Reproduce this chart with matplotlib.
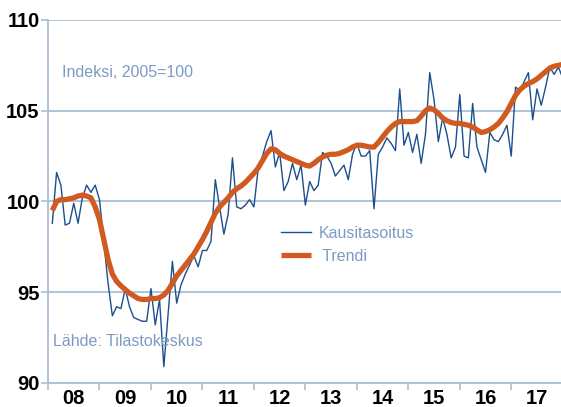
import numpy as np
import matplotlib
matplotlib.use("Agg")
import matplotlib.pyplot as plt

# monthly data, 2008 -> 2017
years = ["08", "09", "10", "11", "12", "13", "14", "15", "16", "17"]

kausitasoitus = [
    98.8, 101.6, 100.9, 98.7, 98.8, 99.9, 98.8, 100.2, 100.9, 100.5, 100.9, 100.1,
    97.8, 95.5, 93.7, 94.2, 94.1, 95.2, 94.2, 93.6, 93.5, 93.4, 93.4, 95.2,
    93.2, 94.6, 90.9, 93.8, 96.7, 94.4, 95.4, 96.0, 96.5, 97.0, 96.4, 97.3,
    97.3, 97.8, 101.2, 99.7, 98.2, 99.3, 102.4, 99.7, 99.6, 99.8, 100.1, 99.7,
    101.8, 102.5, 103.3, 103.9, 101.9, 102.7, 100.6, 101.1, 102.1, 101.2, 102.0, 99.8,
    101.1, 100.6, 100.9, 102.7, 102.5, 102.1, 101.4, 101.7, 102.0, 101.2, 102.6, 103.2,
    102.5, 102.5, 102.8, 99.6, 102.6, 103.0, 103.5, 103.2, 102.8, 106.2, 103.1, 103.8,
    102.7, 103.7, 102.1, 103.7, 107.1, 105.6, 103.3, 104.6, 103.7, 102.4, 103.0, 105.9,
    102.5, 102.4, 105.4, 103.0, 102.3, 101.6, 103.8, 103.4, 103.3, 103.7, 104.2, 102.5,
    106.3, 106.1, 106.6, 107.1, 104.5, 106.2, 105.3, 106.3, 107.4, 107.0, 107.4, 106.8,
]

trendi = [
    99.5, 100.0, 100.1, 100.1, 100.15, 100.2, 100.3, 100.35, 100.3, 100.2, 99.7, 99.0,
    97.9, 96.8, 96.0, 95.6, 95.35, 95.15, 94.95, 94.8, 94.65, 94.6, 94.6, 94.65,
    94.65, 94.7, 94.85, 95.1, 95.5, 95.9, 96.2, 96.5, 96.8, 97.1, 97.5, 97.9,
    98.35, 98.85, 99.35, 99.7, 99.95, 100.2, 100.5, 100.7, 100.85, 101.05, 101.3, 101.55,
    101.85, 102.25, 102.65, 102.9, 102.85, 102.65, 102.5, 102.4, 102.3, 102.2, 102.1, 102.0,
    101.95, 102.1, 102.3, 102.45, 102.55, 102.6, 102.6, 102.65, 102.75, 102.85, 103.0, 103.1,
    103.1, 103.05, 103.0, 103.0, 103.25, 103.55, 103.85, 104.1, 104.3, 104.4, 104.4, 104.4,
    104.4, 104.45, 104.7, 105.0, 105.15, 105.05, 104.85, 104.6, 104.45, 104.35, 104.3, 104.3,
    104.25, 104.2, 104.1, 103.95, 103.8, 103.85, 103.95, 104.1, 104.3, 104.6, 104.95, 105.4,
    105.85, 106.15, 106.35, 106.5, 106.6, 106.75, 106.95, 107.15, 107.35, 107.45, 107.5, 107.55,
]

months = np.arange(1, len(kausitasoitus) + 1)

grid_col = "#A9BED8"
text_col = "#7C9BC3"

plt.rcParams['font.family'] = ['Liberation Sans', 'DejaVu Sans']

fig = plt.figure(figsize=(5.61, 4.07), dpi=100)
ax = fig.add_axes([0.0856, 0.059, 0.9144, 0.892])

ax.plot(months, kausitasoitus, color="#1B4F8F", lw=1.0, label="Kausitasoitus", zorder=3)
ax.plot(months, trendi, color="#D15A20", lw=3.8, label=" Trendi", zorder=4,
        solid_capstyle="butt")

ax.set_ylim(90, 110)
ax.set_xlim(0, 119.6)
ax.set_yticks([90, 95, 100, 105, 110])
ax.grid(axis='y', color=grid_col, lw=1.3)
ax.set_axisbelow(True)

# year boundaries as ticks, labels in the middle of each year
ax.set_xticks(np.arange(0, 120, 12))
ax.set_xticklabels([])
ax.set_xticks(np.arange(6, 120, 12), minor=True)
ax.set_xticklabels(years, minor=True)
ax.tick_params(axis='x', which='major', length=5, width=1.2, color=grid_col)
ax.tick_params(axis='x', which='minor', length=0, pad=4)
ax.tick_params(axis='y', length=5, width=1.2, color=grid_col, pad=1)

for lab in ax.get_xticklabels(minor=True) + ax.get_yticklabels():
    lab.set_fontsize(14.5)
    lab.set_fontweight('bold')
    lab.set_color('black')

for s in ['top', 'right']:
    ax.spines[s].set_visible(False)
for s in ['left', 'bottom']:
    ax.spines[s].set_color(grid_col)
    ax.spines[s].set_linewidth(1.3)

ax.text(0.028, 0.855, "Indeksi, 2005=100", transform=ax.transAxes,
        fontsize=11.5, color=text_col, va='center', ha='left')
ax.text(0.01, 0.113, "Lähde: Tilastokeskus", transform=ax.transAxes,
        fontsize=11.5, color=text_col, va='center', ha='left')

leg = ax.legend(loc='center left', bbox_to_anchor=(0.454, 0.381), frameon=False,
                fontsize=11.5, handlelength=1.9, handletextpad=0.45,
                labelspacing=0.5, borderpad=0, borderaxespad=0)
for t in leg.get_texts():
    t.set_color(text_col)

fig.savefig("out.png", dpi=100)
